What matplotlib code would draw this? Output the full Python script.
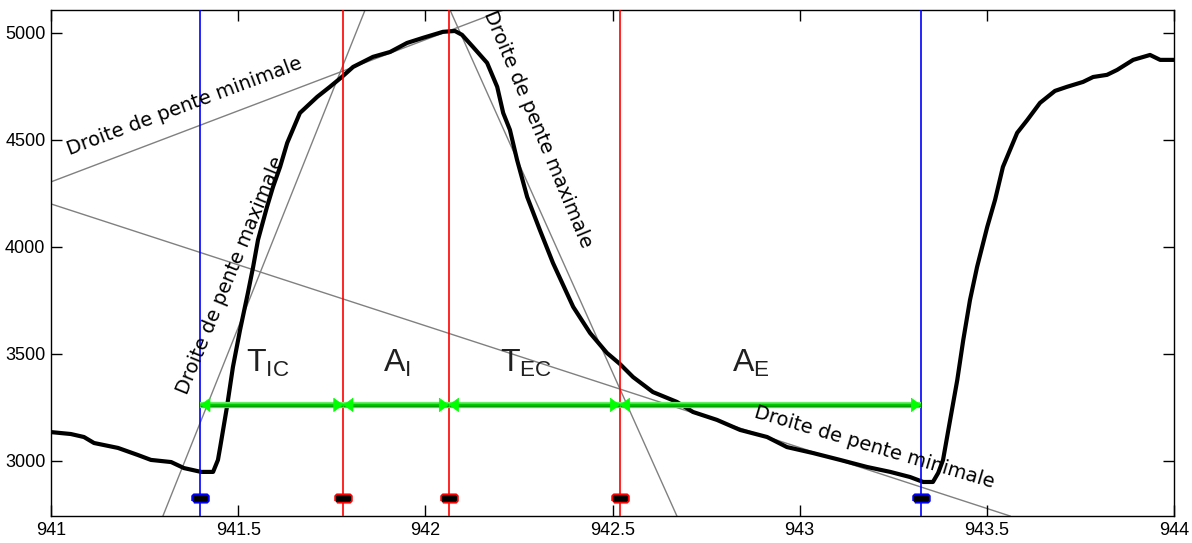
import matplotlib
matplotlib.use("Agg")
import matplotlib.pyplot as plt

# ---------------- data ----------------
curve_x = [941.000, 941.053, 941.088, 941.115, 941.179, 941.232, 941.267, 941.321, 941.355, 941.401,
           941.433, 941.446, 941.452, 941.470, 941.486, 941.505, 941.526, 941.540, 941.553, 941.577,
           941.593, 941.612, 941.631, 941.665, 941.711, 941.745, 941.777, 941.807, 941.860, 941.906,
           941.951, 941.994, 942.047, 942.079, 942.098, 942.127, 942.165, 942.192, 942.208, 942.226,
           942.245, 942.272, 942.306, 942.341, 942.395, 942.440, 942.485, 942.520, 942.555, 942.608,
           942.672, 942.715, 942.779, 942.841, 942.913, 942.966, 943.036, 943.108, 943.180, 943.242,
           943.295, 943.330, 943.356, 943.370, 943.383, 943.402, 943.421, 943.437, 943.455, 943.474,
           943.501, 943.522, 943.543, 943.581, 943.608, 943.642, 943.682, 943.714, 943.757, 943.784,
           943.821, 943.848, 943.891, 943.936, 943.963, 943.998]
curve_y = [3135, 3126, 3112, 3084, 3061, 3028, 3005, 2995, 2967, 2949,
           2949, 3005, 3065, 3252, 3439, 3612, 3785, 3907, 4033, 4187,
           4280, 4374, 4486, 4626, 4701, 4748, 4794, 4841, 4888, 4911,
           4953, 4977, 5005, 5009, 4991, 4935, 4860, 4748, 4626, 4547,
           4407, 4234, 4079, 3925, 3720, 3598, 3505, 3453, 3392, 3322,
           3276, 3229, 3192, 3145, 3112, 3065, 3037, 3005, 2972, 2949,
           2925, 2902, 2902, 2944, 3005, 3192, 3378, 3565, 3752, 3907,
           4093, 4220, 4374, 4533, 4593, 4673, 4729, 4748, 4771, 4794,
           4804, 4827, 4874, 4897, 4874, 4874]

# slope lines (x0, y0, x1, y1)
line_min_left = (941.000, 4304, 942.500, 5300)
line_max_left = (941.299, 2743, 941.839, 5107)
line_max_right = (942.066, 5107, 942.672, 2743)
line_min_right = (941.000, 4201, 943.562, 2743)

# vertical markers
vlines_x = [941.399, 941.781, 942.063, 942.520, 943.324]
vlines_color = ['#0000ff', '#ff0000', '#ff0000', '#ff0000', '#0000ff']
marker_y = 2827
arrow_y = 3262

# phase labels
phase_labels = [r'T$_{\mathregular{IC}}$', r'A$_{\mathregular{I}}$',
                r'T$_{\mathregular{EC}}$', r'A$_{\mathregular{E}}$']
phase_x = [941.58, 941.925, 942.27, 942.87]
phase_y = 3416

xticks = [941, 941.5, 942, 942.5, 943, 943.5, 944]
xticklabels = ['941', '941.5', '942', '942.5', '943', '943.5', '944']
yticks = [3000, 3500, 4000, 4500, 5000]
yticklabels = ['3000', '3500', '4000', '4500', '5000']

# ---------------- figure ----------------
fig = plt.figure(figsize=(11.92, 5.43), dpi=100)
ax = fig.add_axes([51 / 1192, 27 / 543, 1123 / 1192, 506 / 543])
ax.set_xlim(941, 944)
ax.set_ylim(2743, 5107)

gray = '#808080'
for (x0, y0, x1, y1) in [line_min_left, line_max_left, line_max_right, line_min_right]:
    ax.plot([x0, x1], [y0, y1], color=gray, lw=1.0, zorder=1)

ax.plot(curve_x, curve_y, color='black', lw=3.0, zorder=2, solid_joinstyle='round')

for xv, c in zip(vlines_x, vlines_color):
    ax.axvline(xv, color=c, lw=1.2, zorder=3)

marker_shape = [(-1.6, -1), (1.6, -1), (2, -0.6), (2, 0.6), (1.6, 1), (-1.6, 1), (-2, 0.6), (-2, -0.6)]
for xv, c in zip(vlines_x, vlines_color):
    ax.plot([xv], [marker_y], marker=marker_shape, markersize=12, markerfacecolor='black',
            markeredgecolor=c, markeredgewidth=1.3, linestyle='none', zorder=4)

# arrows
for x0, x1 in zip(vlines_x[:-1], vlines_x[1:]):
    ax.plot([x0, x1], [arrow_y, arrow_y], color='#66ee66', lw=4.5, zorder=5, solid_capstyle='butt')
    ax.plot([x0, x1], [arrow_y, arrow_y], color='#00a000', lw=2.5, zorder=5, solid_capstyle='butt')
    ax.annotate('', xy=(x1, arrow_y), xytext=(x0, arrow_y),
                arrowprops=dict(arrowstyle='<|-|>,head_length=0.65,head_width=0.48',
                                color='#00ff00', lw=0.5, shrinkA=0, shrinkB=0),
                zorder=6)

for lab, xp in zip(phase_labels, phase_x):
    ax.text(xp, phase_y, lab, fontsize=23, family='Liberation Sans', ha='center',
            va='baseline', color='#202020', zorder=6)

tkw = dict(fontsize=14, family='DejaVu Sans', color='black', rotation_mode='anchor',
           ha='left', va='baseline', zorder=6)
ax.text(941.051, 4430, 'Droite de pente minimale', rotation=20.5, **tkw)
ax.text(941.363, 3304, 'Droite de pente maximale', rotation=67.7, **tkw)
ax.text(942.157, 5089, 'Droite de pente maximale', rotation=-67.4, clip_on=True, **tkw)
ax.text(942.876, 3206, 'Droite de pente minimale', rotation=-16.5, **tkw)

ax.set_xticks(xticks)
ax.set_xticklabels(xticklabels)
ax.set_yticks(yticks)
ax.set_yticklabels(yticklabels)
ax.tick_params(direction='in', length=8, width=1, top=True, right=True,
               labelsize=13, pad=4)
for lab in ax.get_xticklabels() + ax.get_yticklabels():
    lab.set_family('Liberation Sans')
for s in ax.spines.values():
    s.set_linewidth(1.0)

fig.savefig('out.png', dpi=100)
